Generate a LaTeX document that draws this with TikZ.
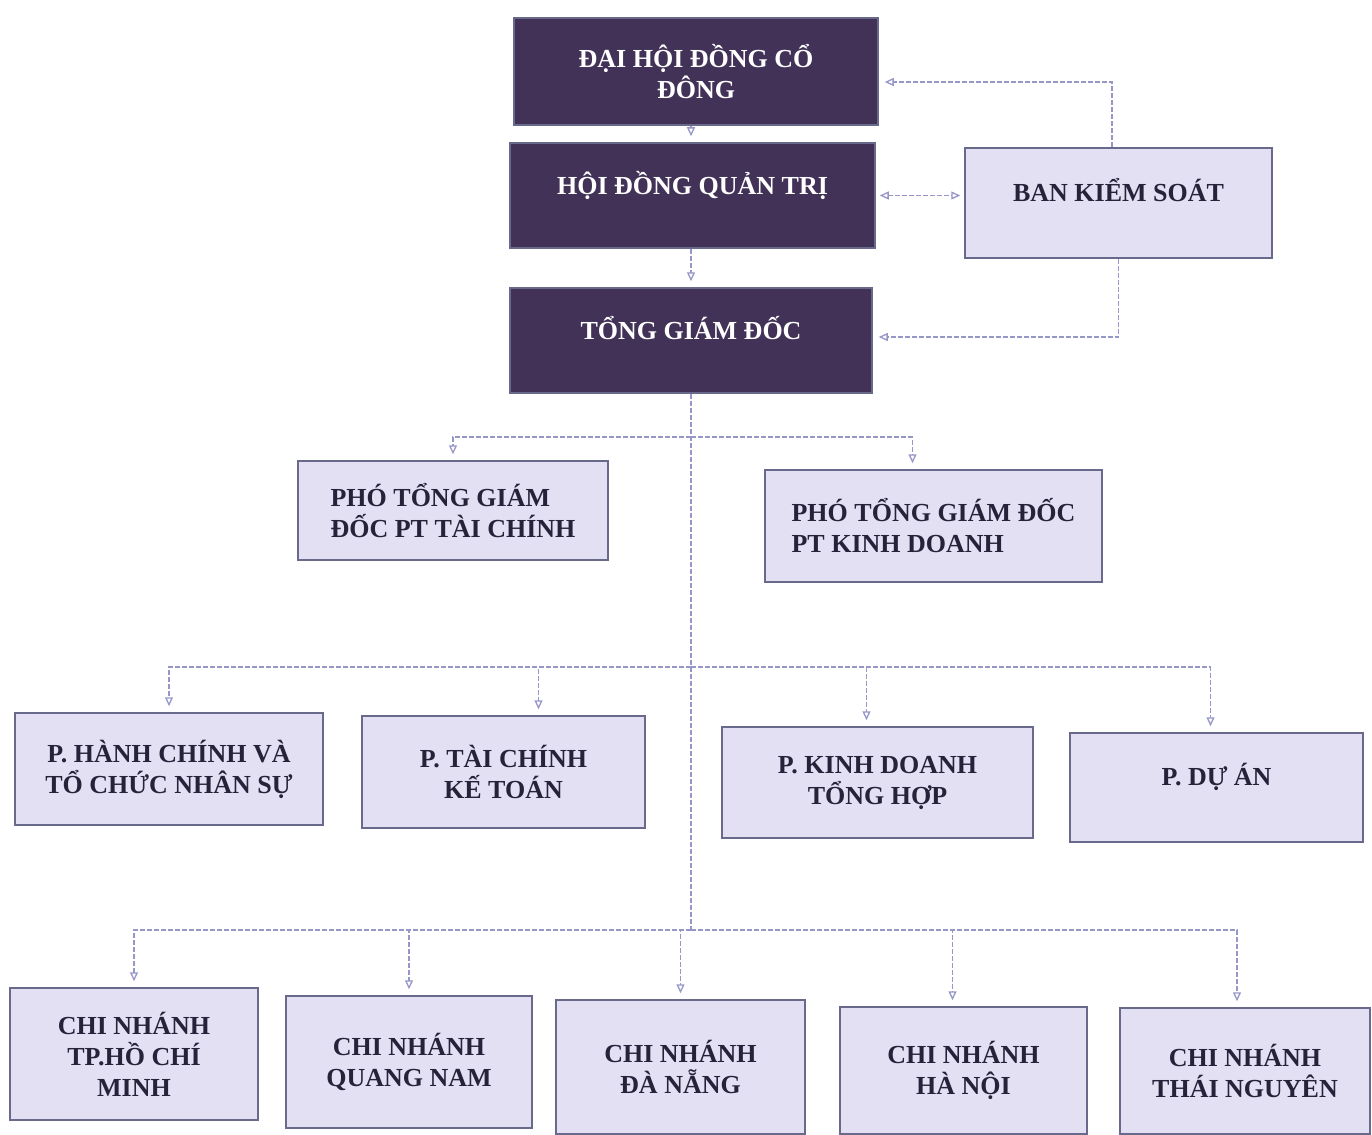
\documentclass[tikz,border=0pt]{standalone}
\usepackage{fontspec}
\setmainfont{Liberation Serif}
\usetikzlibrary{arrows.meta}
\definecolor{darkfill}{RGB}{66,50,88}
\definecolor{lightfill}{RGB}{228,224,244}
\definecolor{boxedge}{RGB}{105,105,140}
\definecolor{linkcol}{RGB}{150,150,200}
\definecolor{textdark}{RGB}{38,34,58}
\begin{document}
\begin{tikzpicture}[x=1pt, y=-1pt,
	every node/.style={rectangle, draw=boxedge, line width=1.5pt, align=center, inner sep=6pt, font=\bfseries\fontsize{26}{31}\selectfont},
	dark/.style={fill=darkfill, text=white},
	light/.style={fill=lightfill, text=textdark},
	lift/.style={text depth=26pt},
	link/.style={draw=linkcol, line width=1.3pt, dash pattern=on 5pt off 2pt},
	tip/.style={link, -{Triangle[open, length=9pt, width=8pt]}, shorten >=6pt},
	dtip/.style={link, {Triangle[open, length=9pt, width=8pt]}-{Triangle[open, length=9pt, width=8pt]}, shorten >=4pt, shorten <=4pt}]
	\useasboundingbox (0,0) rectangle (1372,1134);
	% top levels
	\node[dark, minimum width=364, minimum height=107] (dhdcd) at (696, 71.5) {ĐẠI HỘI ĐỒNG CỔ\\ĐÔNG};
	\node[dark, lift, minimum width=365, minimum height=105] (hdqt) at (692.5, 195.5) {HỘI ĐỒNG QUẢN TRỊ};
	\node[dark, lift, minimum width=362, minimum height=105] (tgd) at (691, 340.5) {TỔNG GIÁM ĐỐC};
	\node[light, lift, minimum width=307, minimum height=110] (bks) at (1118.5, 203) {BAN KIỂM SOÁT};
	% deputies
	\node[light, align=left, minimum width=310, minimum height=99] (ptc) at (453, 510.5) {PHÓ TỔNG GIÁM\\ĐỐC PT TÀI CHÍNH};
	\node[light, align=left, minimum width=337, minimum height=112] (pkd) at (933.5, 526) {PHÓ TỔNG GIÁM ĐỐC\\PT KINH DOANH};
	% departments
	\node[light, minimum width=308, minimum height=112] (phc) at (169, 769) {P. HÀNH CHÍNH VÀ\\TỔ CHỨC NHÂN SỰ};
	\node[light, minimum width=283, minimum height=112] (ptckt) at (503.5, 772) {P. TÀI CHÍNH\\KẾ TOÁN};
	\node[light, minimum width=311, minimum height=111] (pkdth) at (877.5, 782.5) {P. KINH DOANH\\TỔNG HỢP};
	\node[light, lift, minimum width=293, minimum height=109] (pda) at (1216.5, 787.5) {P. DỰ ÁN};
	% branches
	\node[light, minimum width=248, minimum height=132] (cnhcm) at (134, 1054) {CHI NHÁNH\\TP.HỒ CHÍ\\MINH};
	\node[light, minimum width=246, minimum height=132] (cnqn) at (409, 1062) {CHI NHÁNH\\QUANG NAM};
	\node[light, minimum width=249, minimum height=134] (cndn) at (680.5, 1067) {CHI NHÁNH\\ĐÀ NẴNG};
	\node[light, minimum width=247, minimum height=127] (cnhn) at (963.5, 1070.5) {CHI NHÁNH\\HÀ NỘI};
	\node[light, minimum width=250, minimum height=126] (cntn) at (1245, 1071) {CHI NHÁNH\\THÁI NGUYÊN};
	% junctions
	\coordinate (b1) at (691, 437);
	\coordinate (b2) at (691, 667);
	\coordinate (b3) at (691, 930);
	\coordinate (k1) at (1112, 82);
	\coordinate (k2) at (1118.5, 337);
	% connectors
	\draw[tip] (b1 |- dhdcd.south) -- (b1 |- hdqt.north);
	\draw[tip] (b1 |- hdqt.south) -- (tgd.north);
	\draw[dtip] (hdqt.east) -- (hdqt.east -| bks.west);
	\draw[tip] (bks.north -| k1) -- (k1) -- (k1 -| dhdcd.east);
	\draw[tip] (bks.south) -- (k2) -- (k2 -| tgd.east);
	\draw[link] (tgd.south) -- (b3);
	\draw[tip] (b1) -| (ptc.north);
	\draw[tip] (b1) -| ([xshift=-21pt]pkd.north);
	\draw[tip] (b2) -| (phc.north);
	\draw[tip] (b2) -| ([xshift=35pt]ptckt.north);
	\draw[tip] (b2) -| ([xshift=-11pt]pkdth.north);
	\draw[tip] (b2) -| ([xshift=-6pt]pda.north);
	\draw[tip] (b3) -| (cnhcm.north);
	\draw[tip] (b3) -| (cnqn.north);
	\draw[tip] (b3) -| (cndn.north);
	\draw[tip] (b3) -| ([xshift=-11pt]cnhn.north);
	\draw[tip] (b3) -| ([xshift=-8pt]cntn.north);
\end{tikzpicture}
\end{document}
